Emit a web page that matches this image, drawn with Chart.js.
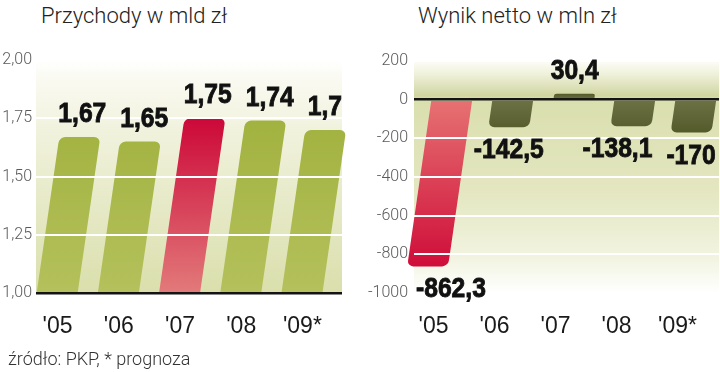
<!DOCTYPE html>
<html>
<head>
<meta charset="utf-8">
<script src="https://cdn.jsdelivr.net/npm/chart.js@4.4.1/dist/chart.umd.min.js"></script>
<style>
  html, body { margin: 0; padding: 0; background: #fff; }
  body { width: 720px; height: 372px; position: relative; overflow: hidden; font-family: Roboto, sans-serif; }
  .title { position: absolute; top: 3px; font-size: 22px; font-weight: 300; color: #222; white-space: nowrap; }
  .box { position: absolute; top: 0; height: 372px; }
  #source { position: absolute; left: 8px; top: 348px; font-size: 18px; font-weight: 300; color: #333; }
</style>
</head>
<body>
<div class="title" style="left:41px">Przychody w mld zł</div>
<div class="title" style="left:418px">Wynik netto w mln zł</div>
<div class="box" style="left:0; width:350px"><canvas id="revenueChart"></canvas></div>
<div class="box" style="left:366px; width:354px"><canvas id="netChart"></canvas></div>
<div id="source">źródło: PKP, * prognoza</div>
<script>
// dane
const years = ["'05", "'06", "'07", "'08", "'09*"];
const revenue = [1.67, 1.65, 1.75, 1.74, 1.7];
const netResult = [-862.3, -142.5, 30.4, -138.1, -170];
const revenueTicks = [1, 1.25, 1.5, 1.75, 2];
const netTicks = [-1000, -800, -600, -400, -200, 0, 200];
const revenueRed = 2;   // '07 wyróżniony
const netRed = 0;       // '05 wyróżniony

const SKEW = 0.145;
const NARROW = 0.88;
const fmt = v => String(v).replace('.', ',');

// pochylenie słupków (skos jak w oryginale)
const skewPlugin = {
    id: 'skew',
    beforeDatasetsDraw(chart, args, opts) {
        const yref = chart.scales.y.getPixelForValue(opts.refValue);
        chart.ctx.save();
        chart.ctx.transform(1, 0, -SKEW, 1, SKEW * yref, 0);
    },
    afterDatasetsDraw(chart) {
        chart.ctx.restore();
    }
};

// tło z gradientem
const bgPlugin = {
    id: 'bg',
    beforeDraw(chart, args, opts) {
        const { ctx, chartArea: a } = chart;
        if (!a) return;
        const g = ctx.createLinearGradient(0, a.top, 0, a.bottom);
        opts.stops.forEach(s => g.addColorStop(s[0], s[1]));
        ctx.save();
        ctx.fillStyle = g;
        ctx.fillRect(a.left, a.top, a.right - a.left, a.bottom - a.top);
        ctx.restore();
    }
};

// etykiety wartości nad / pod słupkami
const valuePlugin = {
    id: 'values',
    afterDraw(chart, args, opts) {
        const { ctx, chartArea: a } = chart;
        const yref = chart.scales.y.getPixelForValue(opts.refValue);
        const meta = chart.getDatasetMeta(0);
        const data = chart.data.datasets[0].data;
        ctx.save();
        ctx.font = 'bold 28px "Liberation Sans", Arial, sans-serif';
        ctx.fillStyle = '#111';
        ctx.strokeStyle = '#111';
        ctx.lineWidth = 0.9;
        ctx.textAlign = 'center';
        ctx.textBaseline = 'alphabetic';

        const labels = meta.data.map((bar, i) => {
            const v = data[i];
            const txt = fmt(v);
            const w = ctx.measureText(txt).width * NARROW;
            const y = bar.y;
            let x = bar.x + SKEW * (yref - y) + (v >= 0 ? opts.shift : 0);
            x = Math.max(x, a.left + w / 2 + 2);
            x = Math.min(x, a.right - w / 2);
            return { txt, w, x, y: v >= 0 ? y - 15 : y + 31 };
        });
        // rozsuwanie nachodzących etykiet (od prawej)
        for (let i = labels.length - 2; i >= 0; i--) {
            const l = labels[i], r = labels[i + 1];
            if (Math.abs(l.y - r.y) < 24) {
                const maxRight = (r.x - r.w / 2) - 14;
                if (l.x + l.w / 2 > maxRight) l.x = maxRight - l.w / 2;
            }
        }
        labels.forEach(l => {
            ctx.save();
            ctx.translate(l.x, l.y);
            ctx.scale(NARROW, 1);
            ctx.fillText(l.txt, 0, 0);
            ctx.strokeText(l.txt, 0, 0);
            ctx.restore();
        });
        ctx.restore();
    }
};

function barFill(chart, from, to, c0, c1) {
    const g = chart.ctx.createLinearGradient(0, from, 0, to);
    g.addColorStop(0, c0);
    g.addColorStop(1, c1);
    return g;
}

new Chart(document.getElementById('revenueChart'), {
    type: 'bar',
    plugins: [bgPlugin, skewPlugin, valuePlugin],
    data: {
        labels: years,
        datasets: [{
            data: revenue,
            barPercentage: 0.67,
            categoryPercentage: 1,
            borderRadius: 6,
            backgroundColor: (c) => {
                const ch = c.chart;
                if (!ch.chartArea) return '#a8b84c';
                const a = ch.chartArea;
                return c.dataIndex === revenueRed
                    ? barFill(ch, a.bottom, ch.scales.y.getPixelForValue(1.75), '#e27a7a', '#cc0838')
                    : barFill(ch, a.bottom, ch.scales.y.getPixelForValue(1.75), '#b4c15c', '#a2b23f');
            }
        }]
    },
    options: {
        responsive: true,
        maintainAspectRatio: false,
        animation: false,
        layout: { padding: { top: 60, right: 8, left: 0, bottom: 0 } },
        plugins: {
            legend: { display: false },
            tooltip: { enabled: false },
            skew: { refValue: 1.28 },
            values: { refValue: 1.28, shift: 4 },
            bg: { stops: [[0, '#ffffff'], [0.08, '#fafaf2'], [0.3, '#f1f2dd'], [1, '#dadfac']] }
        },
        scales: {
            x: {
                grid: { display: false },
                border: { display: false },
                ticks: {
                    color: '#1a1a1a',
                    font: { family: '"Liberation Sans", Arial, sans-serif', size: 23 },
                    padding: 12,
                    labelOffset: -9
                },
                afterFit: (s) => { s.height = 79; }
            },
            y: {
                min: 1,
                max: 2,
                afterBuildTicks: (s) => { s.ticks = revenueTicks.map(v => ({ value: v })); },
                grid: {
                    z: 1,
                    drawTicks: false,
                    color: (c) => c.tick.value === 1 ? '#141414' : '#ffffff',
                    lineWidth: (c) => c.tick.value === 1 ? 2.5 : 2
                },
                border: { display: false },
                ticks: {
                    color: '#5a5a5a',
                    padding: 4,
                    font: { family: 'Roboto', weight: 300, size: 16 },
                    callback: (v) => v.toFixed(2).replace('.', ',')
                },
                afterFit: (s) => { s.width = 36; }
            }
        }
    }
});

new Chart(document.getElementById('netChart'), {
    type: 'bar',
    plugins: [bgPlugin, skewPlugin, valuePlugin],
    data: {
        labels: years,
        datasets: [{
            data: netResult,
            barPercentage: 0.67,
            categoryPercentage: 1,
            borderRadius: 6,
            backgroundColor: (c) => {
                const ch = c.chart;
                if (!ch.chartArea) return '#5f6534';
                const y = ch.scales.y;
                const v = c.raw;
                if (c.dataIndex === netRed)
                    return barFill(ch, y.getPixelForValue(0), y.getPixelForValue(v), '#e67272', '#cf0d39');
                return barFill(ch, y.getPixelForValue(0), y.getPixelForValue(v < 0 ? -170 : 30), '#6c7244', '#545a2a');
            }
        }]
    },
    options: {
        responsive: true,
        maintainAspectRatio: false,
        animation: false,
        layout: { padding: { top: 61, right: 0, left: 0, bottom: 0 } },
        plugins: {
            legend: { display: false },
            tooltip: { enabled: false },
            skew: { refValue: -260 },
            values: { refValue: -260, shift: 0 },
            bg: { stops: [[0, '#fdfdf8'], [0.06, '#eef0d8'], [0.15, '#d0d5a0'], [0.165, '#dadfae'], [0.55, '#e3e6bf'], [0.85, '#f2f4e1'], [1, '#ffffff']] }
        },
        scales: {
            x: {
                grid: { display: false },
                border: { display: false },
                ticks: {
                    color: '#1a1a1a',
                    font: { family: '"Liberation Sans", Arial, sans-serif', size: 23 },
                    padding: 12,
                    labelOffset: -11
                },
                afterFit: (s) => { s.height = 79; }
            },
            y: {
                min: -1000,
                max: 200,
                afterBuildTicks: (s) => { s.ticks = netTicks.map(v => ({ value: v })); },
                grid: {
                    z: 1,
                    drawTicks: false,
                    color: (c) => c.tick.value === 0 ? '#141414' : '#ffffff',
                    lineWidth: (c) => c.tick.value === 0 ? 2.5 : 2
                },
                border: { display: false },
                ticks: {
                    color: '#5a5a5a',
                    padding: 6,
                    font: { family: 'Roboto', weight: 300, size: 16 },
                    callback: (v) => String(v)
                },
                afterFit: (s) => { s.width = 48; }
            }
        }
    }
});
</script>
</body>
</html>
